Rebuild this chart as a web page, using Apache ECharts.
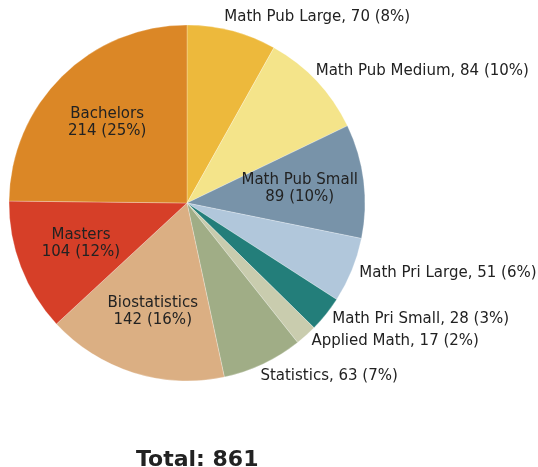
<!DOCTYPE html>
<html>
<head>
    <meta charset="utf-8">
    <title>Pie</title>
    <script src="https://cdn.jsdelivr.net/npm/echarts@6/dist/echarts.min.js"></script>
</head>
<style>
  html, body { margin: 0; padding: 0; background: #fff; }
</style>
<body>
    <div id="main" style="width: 538px;height:467px;"></div>
    <script type="text/javascript">
    // data
    var categories = ['Math Pub Large', 'Math Pub Medium', 'Math Pub Small', 'Math Pri Large', 'Math Pri Small',
        'Applied Math', 'Statistics', 'Biostatistics', 'Masters', 'Bachelors'];
    var values = [70, 84, 89, 51, 28, 17, 63, 142, 104, 214];
    var totalShown = 861;
    var insideNames = ['Math Pub Small', 'Biostatistics', 'Masters', 'Bachelors'];
    var colorList = ['#EDB93C', '#F4E48A', '#7893A9', '#B1C7DB', '#237E7A',
        '#C9CCAE', '#A0AD86', '#DBAF83', '#D63F28', '#DB8726'];

    var sum = 0;
    for (var i = 0; i < values.length; i++) sum += values[i];
    function pct(v) { return Math.round(v / sum * 100); }

    var cx = 187, cy = 203;

    var myChart = echarts.init(document.getElementById('main'));

    var data = categories.map(function (name, i) {
        var item = { name: name, value: values[i] };
        if (insideNames.indexOf(name) >= 0) {
            item.label = {
                position: 'inside',
                align: 'center',
                lineHeight: 17,
                formatter: function (p) { return p.name + '\n' + p.value + ' (' + pct(p.value) + '%)'; }
            };
        }
        return item;
    });

    var option = {
        color: colorList,
        animation: false,
        title: {
            text: 'Total: ' + totalShown,
            left: 136,
            top: 449,
            padding: 0,
            textStyle: {
                fontFamily: 'DejaVu Sans',
                fontSize: 22,
                fontWeight: 'bold',
                color: '#222'
            }
        },
        series: [{
            type: 'pie',
            center: [cx, cy],
            radius: [0, 178],
            startAngle: 90,
            clockwise: true,
            avoidLabelOverlap: false,
            itemStyle: {
                borderColor: 'rgba(255,255,255,0.5)',
                borderWidth: 0.5
            },
            label: {
                show: true,
                position: 'outside',
                fontFamily: 'DejaVu Sans',
                fontSize: 15,
                color: '#222',
                distanceToLabelLine: 0,
                formatter: function (p) { return p.name + ', ' + p.value + ' (' + pct(p.value) + '%)'; }
            },
            labelLine: { show: false, length: 8, length2: 0 },
            labelLayout: function (params) {
                var r = params.labelRect;
                var ly = r.y + r.height / 2;
                if (insideNames.indexOf(categories[params.dataIndex]) >= 0) {
                    var lx = r.x + r.width / 2;
                    return { dx: (lx - cx) * 0.235, dy: (ly - cy) * 0.235 };
                }
                // outside labels near the top/bottom sit a little further out vertically
                var vx = r.x - cx, vy = ly - cy;
                var c = -vy / Math.sqrt(vx * vx + vy * vy);
                if (c > 0) return { dx: -10 * c, dy: -6 * c };
                if (c < -0.85) return { dx: -6, dy: 5 };
                return {};
            },
            emphasis: { disabled: true },
            data: data
        }]
    };
    myChart.setOption(option);
    </script>
</body>
</html>
